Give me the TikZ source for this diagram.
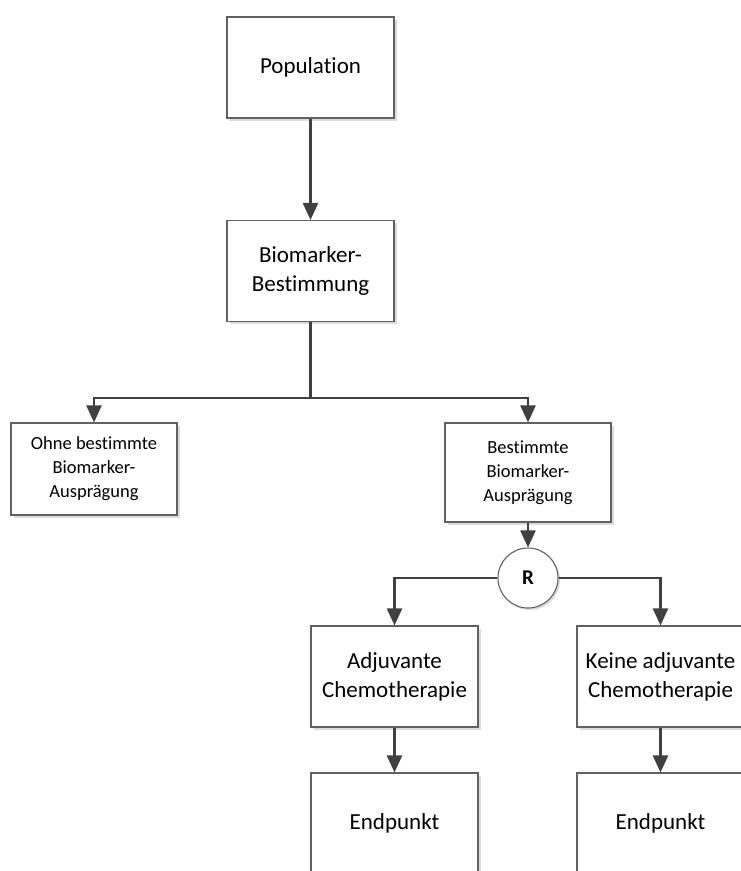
\documentclass[tikz,border=0pt]{standalone}
\usepackage{fontspec}
\setmainfont[Ligatures=NoCommon]{Carlito}
\usetikzlibrary{arrows.meta,shadows}
\tikzset{
  box/.style={draw=black!62, line width=1.1pt, fill=white, rectangle, align=center,
    minimum width=167pt, minimum height=101pt, inner sep=0pt,
    drop shadow={shadow xshift=2.5pt, shadow yshift=-2.5pt, fill=black!14, opacity=1},
    font=\fontsize{23}{29}\selectfont},
  smallbox/.style={box, font=\fontsize{18.5}{24}\selectfont},
  rcircle/.style={draw=black!62, line width=1.1pt, fill=white, circle, minimum size=60pt, inner sep=0pt,
    drop shadow={shadow xshift=2pt, shadow yshift=-2pt, fill=black!14, opacity=1},
    font=\fontsize{21}{24}\selectfont\bfseries},
  conn/.style={draw=black!75, line width=2.4pt, -{Triangle[width=15pt,length=17pt]}},
  plain/.style={draw=black!75, line width=2.4pt}
}
\begin{document}
\begin{tikzpicture}[x=1pt,y=-1pt]
\useasboundingbox (0,0) rectangle (741,871);
\clip (0,0) rectangle (741,871);
\node[box] (pop) at (310.5,67.5) {Population};
\node[box] (bio) at (310.5,271) {Biomarker-\\Bestimmung};
\node[smallbox, minimum width=166pt, minimum height=92pt] (ohne) at (94,469) {Ohne bestimmte\\Biomarker-\\Ausprägung};
\node[smallbox, minimum width=166pt, minimum height=99pt] (best) at (528,472.5) {Bestimmte\\Biomarker-\\Ausprägung};
\node[rcircle] (r) at (528,578) {R};
\node[box] (adj) at (394.5,676.5) {Adjuvante\\Chemotherapie};
\node[box] (keine) at (660.5,676.5) {Keine adjuvante\\Chemotherapie};
\node[box] (end1) at (394.5,823.5) {Endpunkt};
\node[box] (end2) at (660.5,823.5) {Endpunkt};
\coordinate (split) at (310.5,398);
\draw[conn] (pop) -- (bio);
\draw[plain] (bio.south) -- (split);
\draw[conn] (split) -| (ohne.north);
\draw[conn] (split) -| (best.north);
\draw[conn] (best) -- (r);
\draw[conn] (r.west) -| (adj.north);
\draw[conn] (r.east) -| (keine.north);
\draw[conn] (adj) -- (end1);
\draw[conn] (keine) -- (end2);
\end{tikzpicture}
\end{document}
